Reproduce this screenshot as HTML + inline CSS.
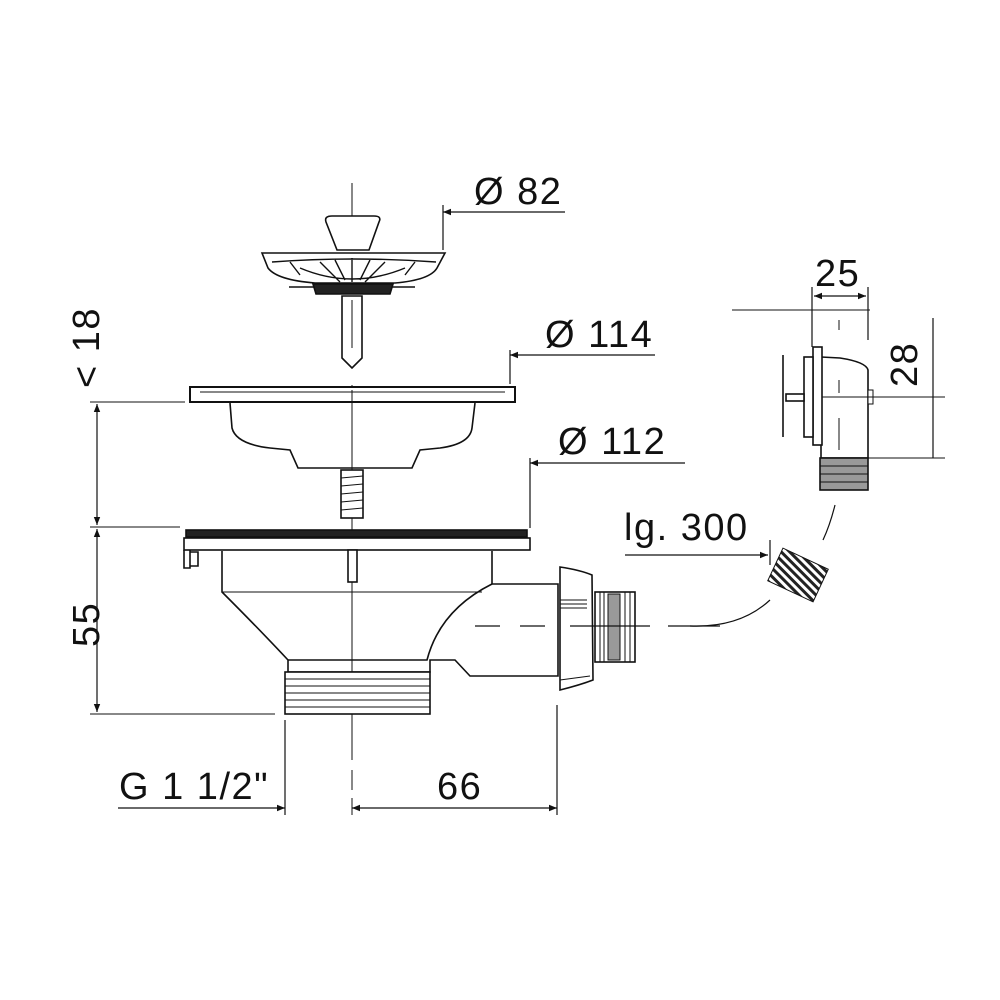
<!DOCTYPE html>
<html><head><meta charset="utf-8"><style>html,body{margin:0;padding:0;background:#fff}svg{display:block}</style></head>
<body>
<svg width="1000" height="1000" viewBox="0 0 1000 1000" xmlns="http://www.w3.org/2000/svg" font-family="Liberation Sans, sans-serif">
<defs>
<marker id="a" viewBox="0 0 10 10" refX="10" refY="5" markerWidth="12" markerHeight="8" orient="auto-start-reverse" markerUnits="userSpaceOnUse"><path d="M0,1 L10,5 L0,9 Z" fill="#111"/></marker>
<pattern id="h" width="6" height="6" patternUnits="userSpaceOnUse" patternTransform="rotate(20)"><rect width="6" height="6" fill="#fff"/><rect width="6" height="3" fill="#222"/></pattern>
</defs>
<g stroke="#111" fill="none" stroke-width="1.6">
<line x1="352" y1="183" x2="352" y2="240" stroke-width="1"/>
<line x1="352" y1="385" x2="352" y2="760" stroke-width="1"/>
<line x1="352" y1="770" x2="352" y2="790" stroke-width="1"/>
<line x1="352" y1="798" x2="352" y2="815" stroke-width="1"/>
<path d="M326,222 Q324,216 332,216 L374,216 Q382,216 379,222 L369,250 L337,250 Z" fill="#fff"/>
<path d="M262,253 L445,253 L437,268 Q430,280 395,283 L315,283 Q277,280 268,268 Z" fill="#fff"/>
<path d="M272,262 Q352,256 436,262 M300,268 Q352,290 405,268 M320,262 L340,282 M385,262 L365,282 M352,258 L352,282 M290,262 L300,275 M415,262 L405,275 M335,260 L345,280 M370,260 L360,280" stroke-width="1.4"/>
<line x1="289" y1="287" x2="415" y2="287"/>
<path d="M313,284 L393,284 L390,294 L316,294 Z" fill="#222"/>
<path d="M342,296 L362,296 L362,358 L352,368 L342,358 Z" fill="#fff"/>
<line x1="352" y1="300" x2="352" y2="348" stroke-width="1"/>
<line x1="443" y1="205" x2="443" y2="250" stroke-width="1.2"/>
<line x1="565" y1="212" x2="443" y2="212" marker-end="url(#a)" stroke-width="1.2"/>
<rect x="190" y="387" width="325" height="15" fill="#fff" stroke-width="2"/>
<line x1="200" y1="392" x2="505" y2="392" stroke-width="1"/>
<path d="M230,403 L232,428 Q236,444 270,448 L290,450 L298,468 L412,468 L420,450 L440,448 Q470,444 472,428 L475,403" fill="#fff"/>
<line x1="352" y1="390" x2="352" y2="468" stroke-width="1"/>
<rect x="341" y="470" width="22" height="48" fill="#fff"/>
<path d="M341,478 L363,476 M341,486 L363,484 M341,494 L363,492 M341,502 L363,500 M341,510 L363,508" stroke-width="1"/>
<line x1="510" y1="350" x2="510" y2="384" stroke-width="1.2"/>
<line x1="655" y1="355" x2="510" y2="355" marker-end="url(#a)" stroke-width="1.2"/>
<line x1="530" y1="458" x2="530" y2="528" stroke-width="1.2"/>
<line x1="685" y1="463" x2="530" y2="463" marker-end="url(#a)" stroke-width="1.2"/>
<rect x="186" y="530" width="341" height="7" fill="#222"/>
<rect x="184" y="538" width="346" height="12" fill="#fff"/>
<path d="M184,550 L184,568 L190,568 L190,550 M190,552 L198,552 L198,566 L190,566"/>
<path d="M222,551 L222,592 Q260,630 288,660 L288,672 L430,672 L430,660 L455,660 L470,676 L558,676 L558,584 L492,584 L492,551"/>
<path d="M492,584 Q440,610 427,660 L288,660" fill="none"/>
<line x1="222" y1="592" x2="482" y2="592" stroke-width="1"/>
<rect x="348" y="550" width="9" height="32" fill="#fff"/>
<rect x="285" y="672" width="145" height="42" fill="#fff"/>
<path d="M285,679 L430,679 M285,686 L430,686 M285,693 L430,693 M285,700 L430,700 M285,707 L430,707" stroke-width="1"/>
<path d="M560,567 Q580,570 592,575 L593,680 Q580,685 560,690 Z" fill="#fff"/>
<path d="M560,600 L587,600 M560,604 L587,604 M560,608 L587,608 M560,680 L590,676" stroke-width="1"/>
<rect x="595" y="592" width="40" height="70" fill="#fff"/>
<rect x="608" y="594" width="12" height="66" fill="#999" stroke-width="1"/>
<path d="M600,592 L600,662 M604,592 L604,662 M625,592 L625,662 M630,592 L630,662" stroke-width="1"/>
<path d="M475,626 L500,626 M520,626 L545,626 M570,626 L650,626 M668,626 L720,626" stroke-width="1.2"/>
<path d="M690,626 Q740,628 770,600" stroke-width="1.2"/>
<line x1="625" y1="555" x2="768" y2="555" marker-end="url(#a)" stroke-width="1.2"/>
<line x1="770" y1="540" x2="770" y2="565" stroke-width="1.2"/>
<g transform="translate(798,575) rotate(25)"><rect x="-25" y="-18" width="50" height="36" fill="url(#h)" stroke-width="1"/></g>
<path d="M835,505 Q830,525 823,540" stroke-width="1.2"/>
<line x1="812" y1="287" x2="812" y2="347" stroke-width="1.2"/>
<line x1="868" y1="287" x2="868" y2="340" stroke-width="1.2"/>
<line x1="814" y1="296" x2="866" y2="296" marker-start="url(#a)" marker-end="url(#a)" stroke-width="1.2"/>
<line x1="732" y1="310" x2="870" y2="310" stroke-width="1"/>
<path d="M821,357 L840,358 Q866,362 868,370 L868,458 L821,458 Z" fill="#fff"/>
<rect x="813" y="347" width="9" height="98" fill="#fff"/>
<rect x="804" y="357" width="9" height="80" fill="#fff"/>
<rect x="786" y="394" width="18" height="7" fill="#fff"/>
<line x1="783" y1="355" x2="783" y2="437"/>
<rect x="868" y="390" width="5" height="14" fill="#fff" stroke-width="1"/>
<path d="M839,320 L839,330 M839,380 L839,393 M839,418 L839,450" stroke-width="1"/>
<line x1="822" y1="397" x2="945" y2="397" stroke-width="1"/>
<line x1="868" y1="458" x2="945" y2="458" stroke-width="1"/>
<line x1="933" y1="318" x2="933" y2="458" stroke-width="1.2"/>
<rect x="820" y="458" width="48" height="32" fill="#999"/>
<path d="M820,466 L868,466 M820,474 L868,474 M820,482 L868,482" stroke-width="1"/>
<line x1="90" y1="402" x2="185" y2="402" stroke-width="1"/>
<line x1="90" y1="527" x2="180" y2="527" stroke-width="1"/>
<line x1="90" y1="714" x2="275" y2="714" stroke-width="1"/>
<line x1="97" y1="404" x2="97" y2="525" marker-start="url(#a)" marker-end="url(#a)" stroke-width="1.2"/>
<line x1="97" y1="529" x2="97" y2="712" marker-start="url(#a)" marker-end="url(#a)" stroke-width="1.2"/>
<line x1="285" y1="720" x2="285" y2="815" stroke-width="1.2"/>
<line x1="557" y1="705" x2="557" y2="815" stroke-width="1.2"/>
<line x1="118" y1="808" x2="285" y2="808" marker-end="url(#a)" stroke-width="1.2"/>
<line x1="352" y1="808" x2="557" y2="808" marker-start="url(#a)" marker-end="url(#a)" stroke-width="1.2"/>
</g>
<g fill="#111" font-size="38" letter-spacing="1.5">
<text x="474" y="204">Ø 82</text>
<text x="545" y="347">Ø 114</text>
<text x="558" y="454">Ø 112</text>
<text x="624" y="540">lg. 300</text>
<text x="815" y="286">25</text>
<text x="119" y="799">G 1 1/2"</text>
<text x="437" y="799">66</text>
<text transform="translate(917,387) rotate(-90)">28</text>
<text transform="translate(99,388) rotate(-90)">&lt; 18</text>
<text transform="translate(99,647) rotate(-90)">55</text>
</g>
</svg>
</body></html>
